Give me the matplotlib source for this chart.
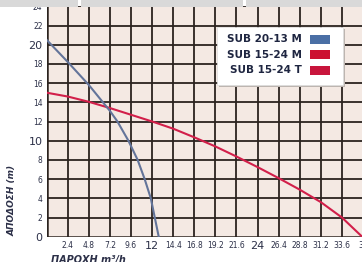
import matplotlib.pyplot as plt
from matplotlib.patches import Rectangle

# curve readings (flow m3/h, head m)
q_2013m = [0, 2.4, 4.8, 7.2, 8.05, 9.3, 10.35, 11.15, 11.85, 12.3, 12.75]
h_2013m = [20.5, 18.2, 15.8, 13.1, 12.0, 10.0, 8.0, 6.0, 4.0, 2.0, 0.0]

q_1524 = [0, 2.4, 4.8, 7.2, 9.6, 12, 14.4, 16.8, 19.2, 21.6, 24, 26.4, 28.8, 31.2, 33.6, 35.9]
h_1524 = [15.0, 14.6, 14.05, 13.4, 12.7, 12.0, 11.25, 10.35, 9.4, 8.35, 7.25, 6.1, 4.9, 3.6, 2.0, 0.0]

x_ticks = [2.4, 4.8, 7.2, 9.6, 12, 14.4, 16.8, 19.2, 21.6, 24, 26.4, 28.8, 31.2, 33.6, 36]
x_labels = ["2.4", "4.8", "7.2", "9.6", "12", "14.4", "16.8", "19.2", "21.6", "24",
            "26.4", "28.8", "31.2", "33.6", "36"]
y_ticks = list(range(0, 25, 2))

legend_names = ["SUB 20-13 M", "SUB 15-24 M", "SUB 15-24 T"]
legend_colors = ["#4a6fa5", "#cc1030", "#c8153c"]

W, H = 362, 262
x0, x1, yb, yt = 46.7, 363.0, 236.7, 6.3

fig = plt.figure(figsize=(3.62, 2.62), dpi=100)
ax = fig.add_axes([x0 / W, 1 - yb / H, (x1 - x0) / W, (yb - yt) / H])
ax.set_facecolor("#f4e9e3")
ax.set_xlim(0, 36)
ax.set_ylim(0, 24)

# grid drawn by hand
for x in x_ticks:
    ax.axvline(x, color="#2b231f", lw=1.3, zorder=1)
for y in y_ticks[1:]:
    ax.axhline(y, color="#2b231f", lw=1.3, zorder=1)
for s in ax.spines.values():
    s.set_visible(False)
ax.axvline(0, color="#2b231f", lw=1.8, zorder=1)
ax.axhline(0, color="#2b231f", lw=1.8, zorder=1)

ax.plot(q_1524, h_1524, color="#d21f4a", lw=1.5, zorder=3)
ax.plot(q_2013m, h_2013m, color="#63749a", lw=1.5, zorder=3)

ax.set_xticks(x_ticks)
ax.set_xticklabels(x_labels)
ax.set_yticks(y_ticks)
ax.tick_params(length=0, pad=3)
for lbl, v in zip(ax.get_xticklabels(), x_ticks):
    lbl.set_fontsize(8 if v in (12, 24) else 5.5)
    lbl.set_color("#2c3048")
for lbl, v in zip(ax.get_yticklabels(), y_ticks):
    lbl.set_fontsize(8 if v in (0, 10, 20) else 5.5)
    lbl.set_color("#2c3048")

ax.set_ylabel("ΑΠΟΔΟΣΗ (m)", fontsize=6.5, style="italic", fontweight="bold",
              color="#2c3048")
ax.yaxis.set_label_coords((17 - x0) / (x1 - x0), (yb - 200) / (yb - yt))
fig.text(88 / W, 1 - 255 / H, "ΠΑΡΟΧΗ m³/h", fontsize=7, style="italic",
         fontweight="bold", color="#2c3048", ha="center", va="top")

# legend box
lx0, ly0, lw, lh = 217 / W, 1 - 85 / H, 126 / W, 58 / H
fig.patches.append(Rectangle((lx0 + 0.006, ly0 - 0.008), lw, lh, transform=fig.transFigure,
                             facecolor="#bdb5b0", edgecolor="none", zorder=4))
fig.patches.append(Rectangle((lx0, ly0), lw, lh, transform=fig.transFigure,
                             facecolor="white", edgecolor="#dddddd", lw=0.5, zorder=5))
for i, (name, col) in enumerate(zip(legend_names, legend_colors)):
    yc = 1 - (39 + i * 15.5) / H
    fig.text(302 / W, yc, name, ha="right", va="center", fontsize=7.5,
             fontweight="bold", family=["Liberation Sans Narrow", "DejaVu Sans"],
             color="#1e2540", zorder=6)
    fig.patches.append(Rectangle((310 / W, yc - 4.5 / H), 20 / W, 9 / H,
                                 transform=fig.transFigure, facecolor=col,
                                 edgecolor="none", zorder=6))

# header strip at top
for a, b in [(0, 78), (81, 243), (246, 362)]:
    fig.patches.append(Rectangle((a / W, 1 - 7 / H), (b - a) / W, 7 / H,
                                 transform=fig.transFigure, facecolor="#d9d9d9",
                                 edgecolor="none", zorder=10))

fig.savefig("out.png", dpi=100)
